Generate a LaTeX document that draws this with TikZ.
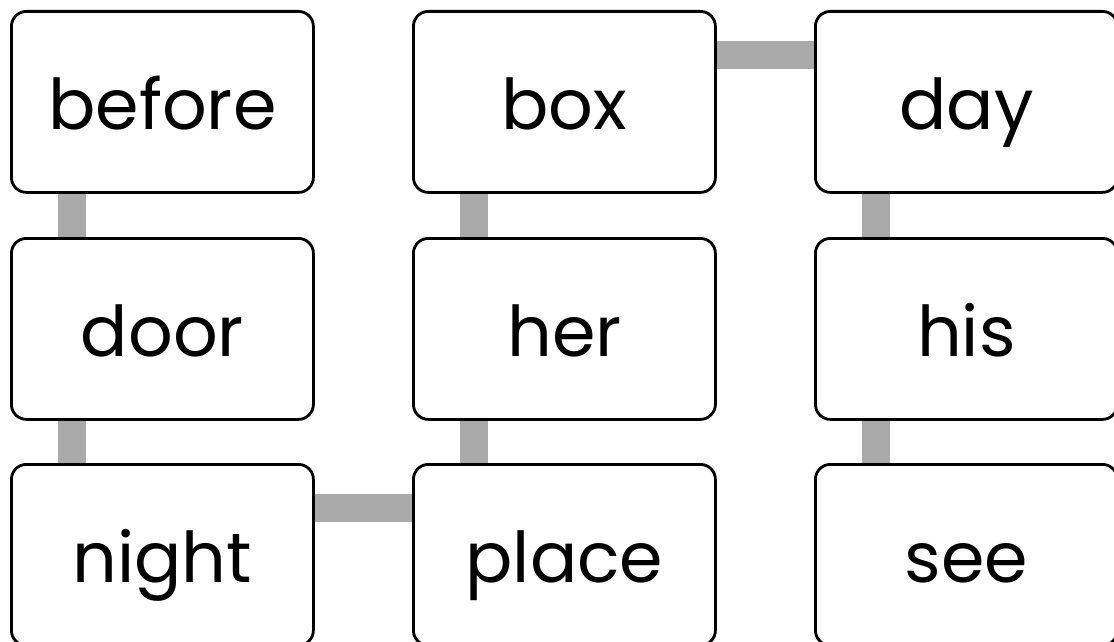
\documentclass[tikz,border=0pt]{standalone}
\usepackage{fontspec}
\setmainfont{Poppins}
\usetikzlibrary{calc,backgrounds}
\tikzset{
  word/.style={draw=black, line width=1.4pt, fill=white, rounded corners=7.5pt,
    minimum width=151pt, minimum height=90.5pt, inner sep=0pt, anchor=north west,
    text height=30pt, text depth=2.5pt,
    font=\fontsize{35}{40}\selectfont},
  link/.style={draw=linkgray, line width=14pt},
}
\definecolor{linkgray}{HTML}{AAAAAA}
\begin{document}
\begin{tikzpicture}[x=0.5pt,y=-0.5pt]
\useasboundingbox (0,0) rectangle (1114,642);
\clip (0,0) rectangle (1114,642);
\node[word] (before) at (10,10) {before};
\node[word] (door) at (10,237) {door};
\node[word] (night) at (10,463) {night};
\node[word] (box) at (412,10) {box};
\node[word] (her) at (412,237) {her};
\node[word] (place) at (412,463) {place};
\node[word] (day) at (814,10) {day};
\node[word] (his) at (814,237) {his};
\node[word] (see) at (814,463) {see};
\begin{scope}[on background layer]
\draw[link] ($(before.south west)+(62,0)$) -- ($(door.north west)+(62,0)$);
\draw[link] ($(door.south west)+(62,0)$) -- ($(night.north west)+(62,0)$);
\draw[link] ($(night.north east)+(0,45)$) -- ($(place.north west)+(0,45)$);
\draw[link] ($(place.north west)+(62,0)$) -- ($(her.south west)+(62,0)$);
\draw[link] ($(her.north west)+(62,0)$) -- ($(box.south west)+(62,0)$);
\draw[link] ($(box.north east)+(0,45)$) -- ($(day.north west)+(0,45)$);
\draw[link] ($(day.south west)+(62,0)$) -- ($(his.north west)+(62,0)$);
\draw[link] ($(his.south west)+(62,0)$) -- ($(see.north west)+(62,0)$);
\end{scope}
\end{tikzpicture}
\end{document}
